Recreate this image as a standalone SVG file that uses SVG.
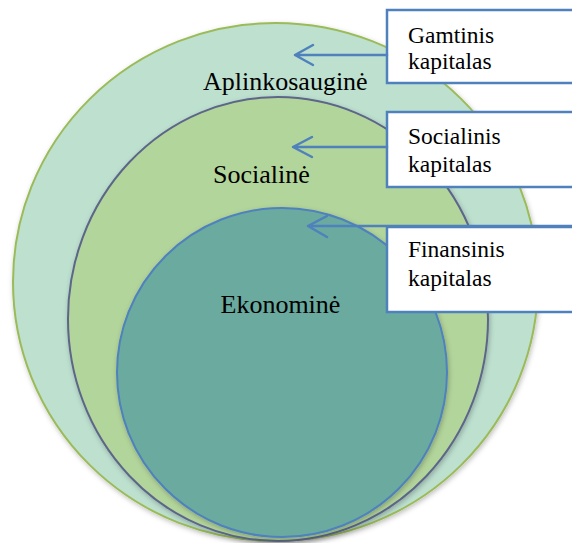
<svg xmlns="http://www.w3.org/2000/svg" width="572" height="543" viewBox="0 0 572 543">
<defs>
<style>
.lbl{font-family:"Liberation Serif","Times New Roman",serif;font-size:26px;fill:#000}
.btx{font-family:"Liberation Serif","Times New Roman",serif;font-size:23.5px;fill:#000}
.box{fill:#fff;stroke:#4f81bd;stroke-width:2.5}
.arr{fill:none;stroke:#4f81bd;stroke-width:2.5;stroke-linecap:round;stroke-linejoin:round}
</style>
<filter id="sh" x="-10%" y="-10%" width="120%" height="120%">
<feDropShadow dx="1" dy="2" stdDeviation="2.5" flood-color="#000" flood-opacity="0.25"/>
</filter>
</defs>
<g id="aplinkosaugine">
<ellipse cx="275.5" cy="282" rx="262.5" ry="259" fill="#bde0cf" stroke="#9bbb59" stroke-width="2" filter="url(#sh)"/>
<text class="lbl" x="203" y="90">Aplinkosauginė</text>
</g>
<g id="socialine">
<ellipse cx="278" cy="319" rx="210" ry="222" fill="#b2d59b" stroke="#5d6688" stroke-width="2" filter="url(#sh)"/>
<text class="lbl" x="213" y="183">Socialinė</text>
</g>
<g id="ekonomine">
<ellipse cx="282" cy="372.5" rx="165" ry="164.5" fill="#6baa9f" stroke="#4f81bd" stroke-width="2" filter="url(#sh)"/>
<text class="lbl" x="220.5" y="313">Ekonominė</text>
</g>
<g id="gamtinis">
<rect class="box" x="387" y="10" width="190" height="73"/>
<text class="btx" x="408" y="43">Gamtinis</text>
<text class="btx" x="408" y="69">kapitalas</text>
</g>
<g id="socialinis">
<rect class="box" x="387" y="112" width="190" height="75"/>
<text class="btx" x="408" y="144">Socialinis</text>
<text class="btx" x="408" y="172">kapitalas</text>
</g>
<g id="finansinis">
<rect class="box" x="387" y="227" width="190" height="85"/>
<text class="btx" x="408" y="257">Finansinis</text>
<text class="btx" x="408" y="286">kapitalas</text>
</g>
<g id="connectors">
<path class="arr" d="M387 55 H295 M313 45 L295 55 L313 65"/>
<path class="arr" d="M387 147 H293 M312 137 L293 147 L312 157"/>
<path class="arr" d="M572 226 H308 M327 216 L308 226 L327 237"/>
</g>
</svg>
